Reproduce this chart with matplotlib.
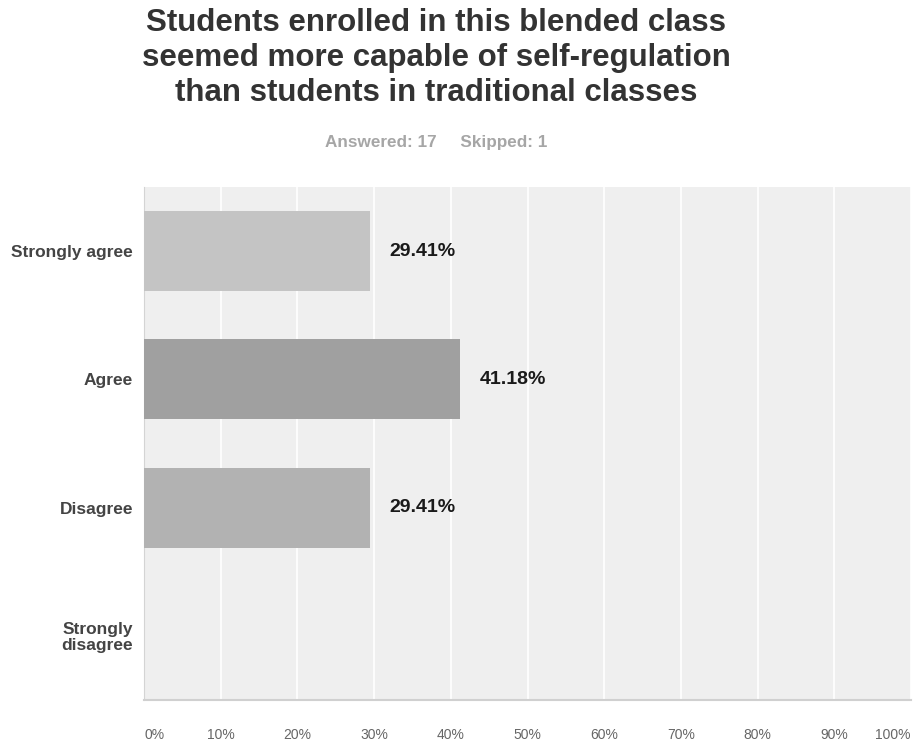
import matplotlib
matplotlib.use("Agg")
import matplotlib.pyplot as plt

# Survey responses
categories = ["Strongly agree", "Agree", "Disagree", "Strongly\ndisagree"]
percentages = [29.41, 41.18, 29.41, 0.0]
bar_colors = ["#c4c4c4", "#a0a0a0", "#b2b2b2", "#b2b2b2"]
tick_values = [0, 10, 20, 30, 40, 50, 60, 70, 80, 90, 100]
tick_labels = ["0%", "10%", "20%", "30%", "40%", "50%", "60%", "70%", "80%", "90%", "100%"]

title = ("Students enrolled in this blended class\n"
         "seemed more capable of self-regulation\n"
         "than students in traditional classes")
subtitle = "Answered: 17     Skipped: 1"

plt.rcParams["font.family"] = ["Liberation Sans", "DejaVu Sans"]

W, H = 913, 740
fig = plt.figure(figsize=(W / 100, H / 100), dpi=100)
fig.patch.set_facecolor("white")

left, right, top, bottom = 144, 911, 187, 700
ax = fig.add_axes([left / W, 1 - bottom / H, (right - left) / W, (bottom - top) / H])
ax.set_facecolor("#efefef")

y = list(range(len(categories)))
ax.barh(y, percentages, height=0.625, color=bar_colors, zorder=3)

for yi, v in zip(y, percentages):
    if v > 0:
        ax.annotate(f"{v:.2f}%", xy=(v, yi), xytext=(14, 0), textcoords="offset points",
                    ha="left", va="center", fontsize=14, fontweight="bold", color="#1a1a1a")

ax.set_xlim(0, 100)
ax.set_ylim(len(categories) - 0.5, -0.5)

ax.set_xticks(tick_values)
ax.set_xticklabels(tick_labels)
ax.grid(axis="x", color="white", linewidth=1.2, zorder=1)
ax.tick_params(axis="x", length=0, pad=20, labelsize=10, labelcolor="#666666")
xl = ax.get_xticklabels()
xl[0].set_horizontalalignment("left")
xl[-1].set_horizontalalignment("right")

ax.set_yticks(y)
ax.set_yticklabels(categories, fontweight="bold", linespacing=1.05)
ax.tick_params(axis="y", length=0, pad=8, labelsize=12.5, labelcolor="#444444")

for side in ("top", "right"):
    ax.spines[side].set_visible(False)
ax.spines["left"].set_color("#d4d4d4")
ax.spines["bottom"].set_color("#d0d0d0")
ax.spines["bottom"].set_linewidth(1.5)

fig.text(436 / W, 1 - 58 / H, title, ha="center", va="center", fontsize=22.5,
         fontweight="bold", color="#333333", linespacing=1.22)
fig.text(436 / W, 1 - 143 / H, subtitle, ha="center", va="center", fontsize=12.3,
         fontweight="bold", color="#a6a6a6")

fig.savefig("out.png", dpi=100, facecolor="white")
